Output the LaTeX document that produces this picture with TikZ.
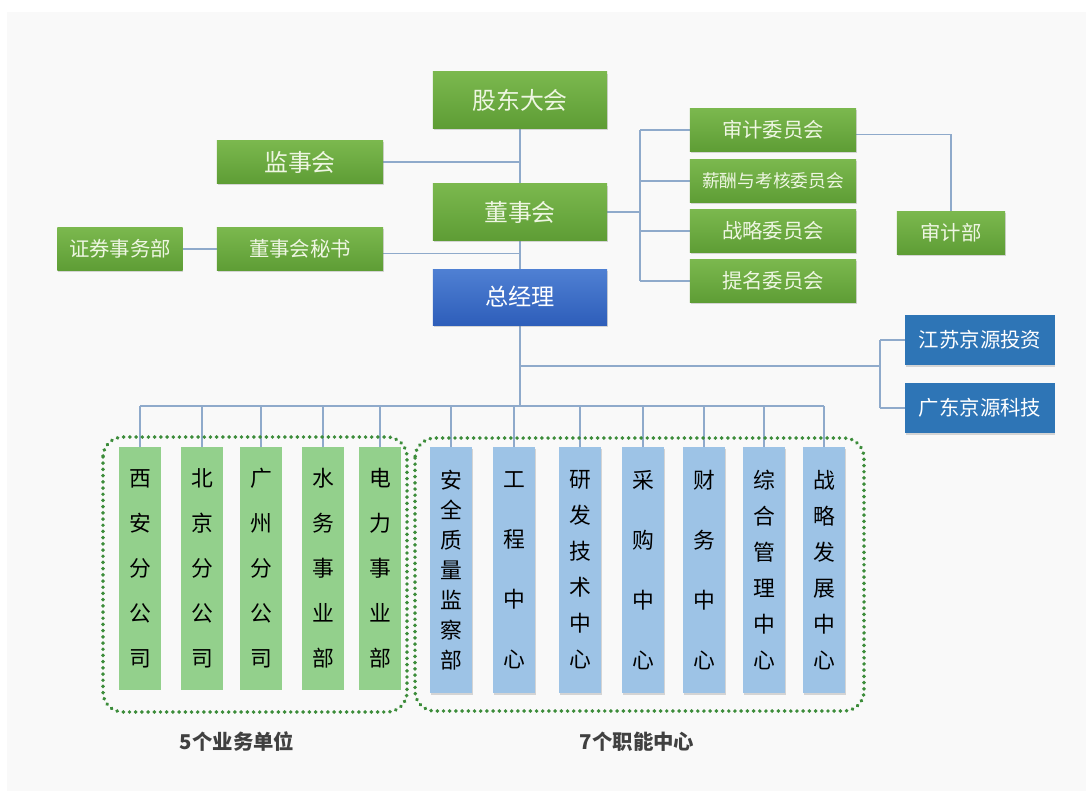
\documentclass[tikz,border=0pt]{standalone}
\usepackage{fontspec}
\setmainfont{Noto Sans CJK SC}
\usepackage{tikz}
\usetikzlibrary{shadows,backgrounds}
\usepackage{xcolor}
\definecolor{bgcol}{HTML}{F9F9F9}
\definecolor{greentop}{HTML}{7BB84E}
\definecolor{greenbot}{HTML}{5E9D35}
\definecolor{bosstop}{HTML}{4F80D3}
\definecolor{bossbot}{HTML}{2E5EBA}
\definecolor{subblue}{HTML}{2E75B6}
\definecolor{colgreen}{HTML}{93D08C}
\definecolor{colblue}{HTML}{9DC3E6}
\definecolor{linecol}{HTML}{8FAACB}
\definecolor{dotgreen}{HTML}{3C8C3A}
\definecolor{boxtext}{HTML}{EEF6E2}
\definecolor{labelgray}{HTML}{404040}

\newcommand\colfont[1]{\fontsize{15.5pt}{#1pt}\selectfont}

\tikzset{
  boxbase/.style={rectangle,inner sep=0pt,align=center,
    drop shadow={shadow xshift=0.6pt,shadow yshift=-1.2pt,opacity=0.3}},
  greenbox/.style={boxbase,top color=greentop,bottom color=greenbot,text=boxtext},
  bigbox/.style={greenbox,minimum width=4.35cm,minimum height=1.4cm,font=\fontsize{17pt}{20pt}\selectfont},
  sidebox/.style={greenbox,minimum width=4.15cm,minimum height=1.075cm,font=\fontsize{14.5pt}{17pt}\selectfont},
  bossbox/.style={boxbase,top color=bosstop,bottom color=bossbot,text=white,
    minimum width=4.35cm,minimum height=1.4cm,font=\fontsize{16.5pt}{20pt}\selectfont},
  subbox/.style={boxbase,fill=subblue,text=white,
    minimum width=3.725cm,minimum height=1.25cm,font=\fontsize{14.5pt}{17pt}\selectfont},
  unitcol/.style={rectangle,inner sep=0pt,align=center,fill=colgreen,text=black,
    minimum width=1.025cm,minimum height=6.075cm},
  centercol/.style={boxbase,fill=colblue,text=black,
    minimum width=1.05cm,minimum height=6.15cm},
  conn/.style={draw=linecol,line width=0.8pt},
  groupline/.style={draw=dotgreen,line width=2.8pt,line cap=round,
    dash pattern=on 0.01pt off 4.4pt,rounded corners=0.5cm},
  grouplabel/.style={font=\bfseries\fontsize{14.5pt}{17pt}\selectfont,text=labelgray}
}

\begin{document}
\begin{tikzpicture}[x=0.025cm,y=-0.025cm]
\useasboundingbox (0,0) rectangle (1086,791);

% Board level
\node[bigbox] (gudong) at (520,100) {股东大会};
\node[sidebox,font=\fontsize{17pt}{20pt}\selectfont] (jianshi) at (300,162) {监事会};
\node[bigbox] (dongshi) at (520,212) {董事会};
\node[sidebox] (mishu) at (300,249) {董事会秘书};
\node[sidebox,minimum width=3.125cm] (zhengquan) at (120,249) {证券事务部};
\node[bossbox] (zjl) at (520,297) {总经理};

% Committees
\node[sidebox] (shenji) at (773,130) {审计委员会};
\node[sidebox,font=\fontsize{12.6pt}{15pt}\selectfont] (xinchou) at (773,181) {薪酬与考核委员会};
\node[sidebox] (zhanlue) at (773,231) {战略委员会};
\node[sidebox] (timing) at (773,281) {提名委员会};
\node[sidebox,minimum width=2.7cm] (shenjibu) at (951,233) {审计部};

% Subsidiaries
\node[subbox] (jiangsu) at (980,340) {江苏京源投资};
\node[subbox] (guangdong) at (980,408) {广东京源科技};

% Business units
\foreach \name/\x/\txt in {xian/140/{西\\安\\分\\公\\司},beijing/202/{北\\京\\分\\公\\司},
    guangzhou/261/{广\\州\\分\\公\\司},shuiwu/323/{水\\务\\事\\业\\部},dianli/380/{电\\力\\事\\业\\部}}
  \node[unitcol,font=\colfont{32}] (\name) at (\x,568.5) {\txt};

% Functional centres
\foreach \name/\x/\sk/\txt in {anquan/451/21.3/{安\\全\\质\\量\\监\\察\\部},gongcheng/514/42.7/{工\\程\\中\\心},
    yanfa/580/25.6/{研\\发\\技\\术\\中\\心},caigou/643/42.7/{采\\购\\中\\心},caiwu/704/42.7/{财\\务\\中\\心},
    zonghe/764/25.6/{综\\合\\管\\理\\中\\心},zhanfa/824/25.6/{战\\略\\发\\展\\中\\心}}
  \node[centercol,font=\colfont{\sk}] (\name) at (\x,570) {\txt};

% Groups
\draw[groupline] (103,437) rectangle (407,712);
\draw[groupline] (415,438) rectangle (864,711);
\node[grouplabel] (unitlbl) at (237,742) {5个业务单位};
\node[grouplabel] (centerlbl) at (637,742) {7个职能中心};

% Connectors
\coordinate (cbus) at (640,212);
\coordinate (sbus) at (880,366);
\coordinate (bus) at (520,406);
\begin{scope}[on background layer]
\fill[bgcol] (7,12) rectangle (1086,791);
\draw[conn] (gudong.south) -- (dongshi.north);
\draw[conn] (dongshi.south) -- (zjl.north);
\draw[conn] (zjl.south) -- (bus);
\draw[conn] (jianshi.east) -- (jianshi.east -| gudong.south);
\draw[conn] ([yshift=-3pt]mishu.east) -- ([yshift=-3pt]mishu.east -| dongshi.south);
\draw[conn] (zhengquan.east) -- (mishu.west);
\draw[conn] (dongshi.east) -- (cbus);
\draw[conn] (cbus |- shenji.west) -- (cbus |- timing.west);
\foreach \c in {shenji,xinchou,zhanlue,timing}
  \draw[conn] (cbus |- \c.west) -- (\c.west);
\draw[conn] ([yshift=-3pt]shenji.east) -| (shenjibu.north);
\draw[conn] (zjl.south |- sbus) -- (sbus);
\draw[conn] (sbus |- jiangsu.west) -- (sbus |- guangdong.west);
\draw[conn] (sbus |- jiangsu.west) -- (jiangsu.west);
\draw[conn] (sbus |- guangdong.west) -- (guangdong.west);
\draw[conn] (xian.north |- bus) -- (zhanfa.north |- bus);
\foreach \c in {xian,beijing,guangzhou,shuiwu,dianli,anquan,gongcheng,yanfa,caigou,caiwu,zonghe,zhanfa}
  \draw[conn] (\c.north |- bus) -- (\c.north);
\end{scope}

\end{tikzpicture}
\end{document}
